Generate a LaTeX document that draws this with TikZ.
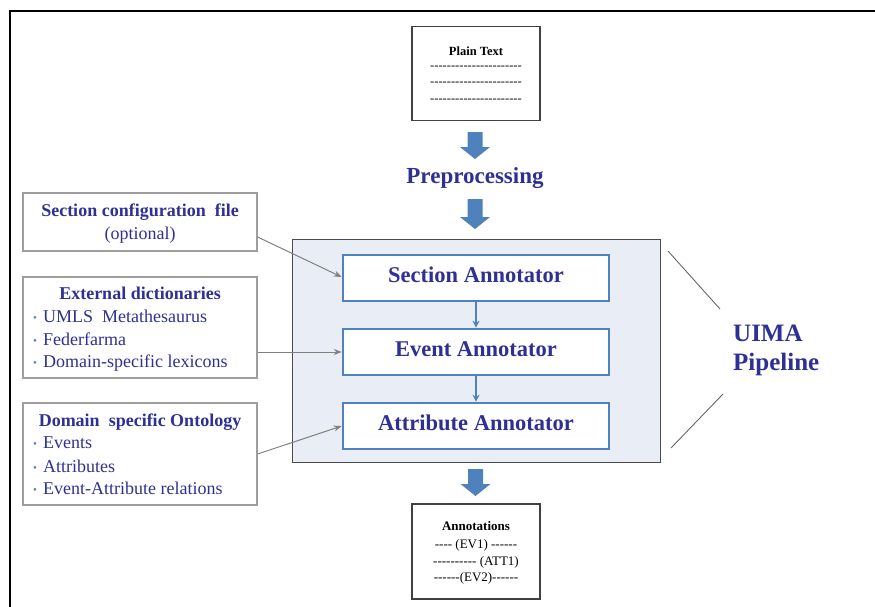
\documentclass[tikz,border=0pt]{standalone}
\usepackage{fontspec}
\setmainfont{Liberation Serif}
\newfontfamily\dashfont{Liberation Serif}
\usetikzlibrary{arrows.meta,calc}
\definecolor{txtblue}{RGB}{46,49,146}
\definecolor{arrblue}{RGB}{79,129,189}
\definecolor{pipefill}{RGB}{233,238,246}
\newcommand\blockarrow[3]{% x center, top y, bottom y
  \fill[arrblue] ({#1-7.5},#2) -- ({#1+7.5},#2) -- ({#1+7.5},{#3-12}) -- ({#1+15},{#3-12})
    -- (#1,#3) -- ({#1-15},{#3-12}) -- ({#1-7.5},{#3-12}) -- cycle;}
\begin{document}
\begin{tikzpicture}[x=1pt,y=-1pt,
  docbox/.style={draw=black!75, line width=1.2pt, fill=white, inner sep=0pt},
  srcbox/.style={draw=black!38, line width=1.2pt, fill=white, inner sep=0pt, minimum width=234pt},
  annbox/.style={draw=arrblue, line width=2.6pt, fill=white, inner sep=0pt, minimum width=266pt, minimum height=46pt},
  anntext/.style={font=\fontsize{22.5}{26}\selectfont\bfseries, text=txtblue, anchor=base, inner sep=0pt},
  srctitle/.style={font=\fontsize{18}{21}\selectfont\bfseries, text=txtblue, anchor=base, inner sep=0pt},
  srcitem/.style={font=\fontsize{18}{21}\selectfont, text=txtblue, anchor=base west, inner sep=0pt},
  bul/.style={font=\fontsize{11}{12}\selectfont, text=arrblue, anchor=base west, inner sep=0pt},
  doctitle/.style={font=\fontsize{12.5}{14}\selectfont\bfseries, anchor=base, inner sep=0pt},
  docline/.style={font=\fontsize{12.5}{14}\selectfont\dashfont, anchor=base, inner sep=0pt},
  feed/.style={draw=black!50, line width=1pt, -{Stealth[length=8pt,width=6pt]}},
  flow/.style={draw=arrblue, line width=2.5pt, -{Stealth[length=7pt,width=7pt]}},
  brace/.style={draw=black!60, line width=0.9pt}]
\useasboundingbox (0,0) rectangle (875,606);
% outer frame
\draw[line width=2.5pt] (10,607) -- (10,11) -- (876,11);
% plain text
\node[docbox, minimum width=128pt, minimum height=94pt] (plain) at (476,73.5) {};
\node[doctitle] (plaint) at (476,55) {Plain Text};
\node[docline] (pl1) at (476,69) {----------------------};
\node[docline] (pl2) at (476,85.5) {----------------------};
\node[docline] (pl3) at (476,102) {----------------------};
% arrows and preprocessing
\blockarrow{475}{132}{159}
\node[font=\fontsize{23}{27}\selectfont\bfseries, text=txtblue, anchor=base, inner sep=0pt] (pre) at (475,183) {Preprocessing};
\blockarrow{475}{199}{229}
% pipeline
\node[draw=black!70, line width=1pt, fill=pipefill, minimum width=368pt, minimum height=223pt, inner sep=0pt] (pipe) at (476,350.5) {};
\node[annbox] (sec) at (476,278) {};
\node[anntext] (sect) at (476,282) {Section Annotator};
\node[annbox] (ev) at (476,352) {};
\node[anntext] (evt) at (476,356) {Event Annotator};
\node[annbox] (att) at (476,426) {};
\node[anntext] (attt) at (476,430) {Attribute Annotator};
\draw[flow] (sec.south) -- (ev.north);
\draw[flow] (ev.south) -- (att.north);
\blockarrow{475.5}{469}{496}
% annotations
\node[docbox, minimum width=128pt, minimum height=95pt] (ann) at (476,551.5) {};
\node[doctitle, font=\fontsize{13}{15}\selectfont\bfseries] (annt) at (476,530) {Annotations};
\node[docline, font=\fontsize{13}{15}\selectfont\dashfont] (an1) at (476,548) {---- (EV1) ------};
\node[docline, font=\fontsize{13}{15}\selectfont\dashfont] (an2) at (476,565) {---------- (ATT1)};
\node[docline, font=\fontsize{13}{15}\selectfont\dashfont] (an3) at (476,581) {------(EV2)------};
% section config
\node[srcbox, minimum height=58pt] (cfg) at (140,222) {};
\node[srctitle] (cfgt) at (140,216) {Section configuration~ file};
\node[srctitle, font=\fontsize{18}{21}\selectfont] (cfgo) at (140,239.5) {(optional)};
% external dictionaries
\node[srcbox, minimum height=101pt] (ext) at (140,327.5) {};
\node[srctitle] (extt) at (140,299) {External dictionaries};
\node[bul] (eb1) at (33,321) {•};
\node[srcitem] (ei1) at (43,322) {UMLS~ Metathesaurus};
\node[bul] (eb2) at (33,344) {•};
\node[srcitem] (ei2) at (43,345) {Federfarma};
\node[bul] (eb3) at (33,366) {•};
\node[srcitem] (ei3) at (43,367) {Domain-specific lexicons};
% domain ontology
\node[srcbox, minimum height=102pt] (dom) at (140,454) {};
\node[srctitle] (domt) at (140,426) {Domain~ specific Ontology};
\node[bul] (db1) at (33,447) {•};
\node[srcitem] (di1) at (43,448) {Events};
\node[bul] (db2) at (33,471) {•};
\node[srcitem] (di2) at (43,472) {Attributes};
\node[bul] (db3) at (33,493) {•};
\node[srcitem] (di3) at (43,494) {Event-Attribute relations};
% feed connectors
\draw[feed] ([yshift=-15pt]cfg.east) -- ([yshift=1pt]sec.west);
\draw[feed] ([yshift=-24.5pt]ext.east) -- (ev.west);
\draw[feed] (dom.east) -- (att.west);
% UIMA label
\node[font=\fontsize{25}{29}\selectfont\bfseries, text=txtblue, anchor=base west, inner sep=0pt] (uima) at (733,341) {UIMA};
\node[font=\fontsize{25}{29}\selectfont\bfseries, text=txtblue, anchor=base west, inner sep=0pt] (pipel) at (733,370) {Pipeline};
\coordinate (u1) at (668,251);
\coordinate (u2) at (720,309);
\coordinate (u3) at (723,394);
\coordinate (u4) at (671,448);
\draw[brace] (u1) -- (u2);
\draw[brace] (u3) -- (u4);
\end{tikzpicture}
\end{document}
